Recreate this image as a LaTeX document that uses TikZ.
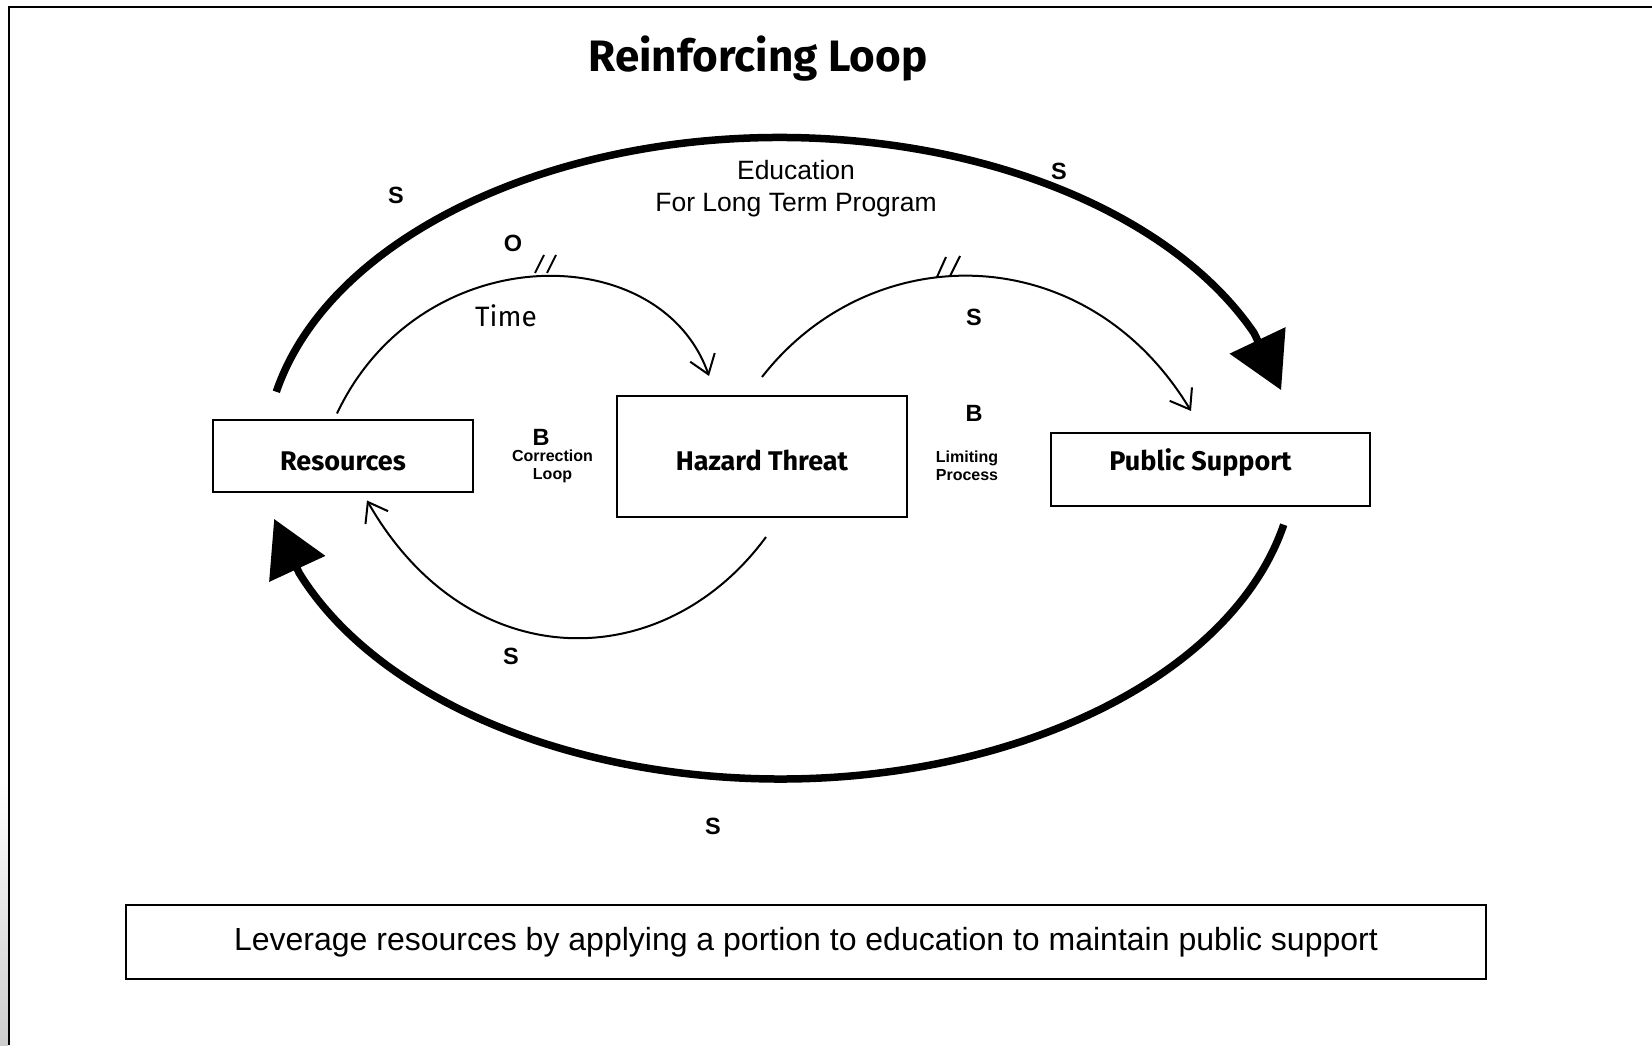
\documentclass[tikz,border=0pt]{standalone}
\usepackage{fontspec}
\setmainfont{Liberation Sans}
\newfontfamily\comicfont{Fira Sans}
\usetikzlibrary{positioning, arrows.meta}
\tikzset{
	node distance=144pt,
	every text node part/.style= {
		align=center
	},
	box/.style= {
		rectangle,
		draw,
		line width=2pt,
		outer sep=0pt,
		font=\comicfont\bfseries\fontsize{27}{32}\selectfont
	},
	sign/.style= {
		font=\bfseries\fontsize{23.5}{28}\selectfont
	},
	note/.style= {
		font=\bfseries\fontsize{16}{18}\selectfont
	},
	link/.style= {
		line width=2pt,
		-{Straight Barb[length=18pt, width=26pt]}
	},
	mainlink/.style= {
		line width=7.5pt,
		-{Triangle[length=55pt, width=60pt]}
	},
	delay/.style= {
		line width=2pt
	}
}

\begin{document}
\begin{tikzpicture}[x=1pt, y=1pt]
	\useasboundingbox (0,0) rectangle (1652,1045);
	
	% frame
	\shade[top color=white, bottom color=black!20] (0,0) rectangle (8,265);
	\draw[line width=2.5pt] (9,0) -- (9,1038) -- (1652,1038);
	
	\node (title)[anchor=base, font=\comicfont\bfseries\fontsize{44}{52}\selectfont] at (758,973) {Reinforcing Loop};
	
	\node (haz)[box, minimum width=290pt, minimum height=121pt, text height=29pt, text depth=0pt] at (762,588.5) {Hazard Threat};
	\node (res)[box, minimum width=260pt, minimum height=72pt, text height=29pt, text depth=0pt, left=of haz] {Resources};
	\node (pub)[box, minimum width=319pt, minimum height=73pt, text depth=20pt, right=of haz, yshift=-13pt] {Public Support\rule{20pt}{0pt}};
	
	% outer reinforcing loop
	\draw[mainlink] ([shift={(63.3,28.7)}]res.north west) arc[start angle=168, end angle=23, x radius=515pt, y radius=321pt] -- ++(27,-57);
	\draw[mainlink] ([shift={(-86.3,-18.7)}]pub.south east) arc[start angle=-12, end angle=-159, x radius=515pt, y radius=321pt] -- ++(-25,54);
	
	% inner links
	\draw[link] ([xshift=-6pt, yshift=7pt]res.north) .. controls +(83,176) and +(-49,139) .. ([xshift=-53pt, yshift=20pt]haz.north);
	\draw[link] ([yshift=19pt]haz.north) .. controls +(109,140) and +(-105,174) .. ([xshift=-19.5pt, yshift=22pt]pub.north);
	\draw[link] ([xshift=4pt, yshift=-20pt]haz.south) .. controls +(-103,-140) and +(101,-177) .. ([xshift=24pt, yshift=-8pt]res.south);
	
	% delay marks
	\draw[delay] (535,772) -- ++(9,18) (547,772) -- ++(9,18);
	\draw[delay] (937,768) -- ++(9,20) (950,769) -- ++(10,20);
	
	\node (edu)[font=\fontsize{26.5}{32.3}\selectfont] at (796,856.4) {Education\\For Long Term Program};
	\node (sTopL)[sign] at (396,850) {S};
	\node (sTopR)[sign] at (1059,874) {S};
	\node (oDelay)[sign] at (513,802) {O};
	\node (time)[font=\comicfont\fontsize{28}{32}\selectfont] at (506,729.5) {Time};
	\node (sMid)[sign] at (974,727.5) {S};
	\node (bRight)[sign] at (974,632) {B};
	\node (bLeft)[sign] at (541,607.3) {B};
	\node (corr)[note] at (552.5,579) {Correction\\Loop};
	\node (limit)[note] at (967,579) {Limiting\\Process};
	\node (sLow)[sign] at (511,389) {S};
	\node (sBottom)[sign] at (713,219) {S};
	
	\node (footer)[draw, line width=2pt, minimum width=1360pt, minimum height=74pt, font=\fontsize{32}{38}\selectfont] at (806,103) {Leverage resources by applying a portion to education to maintain public support};
	
\end{tikzpicture}
\end{document}
